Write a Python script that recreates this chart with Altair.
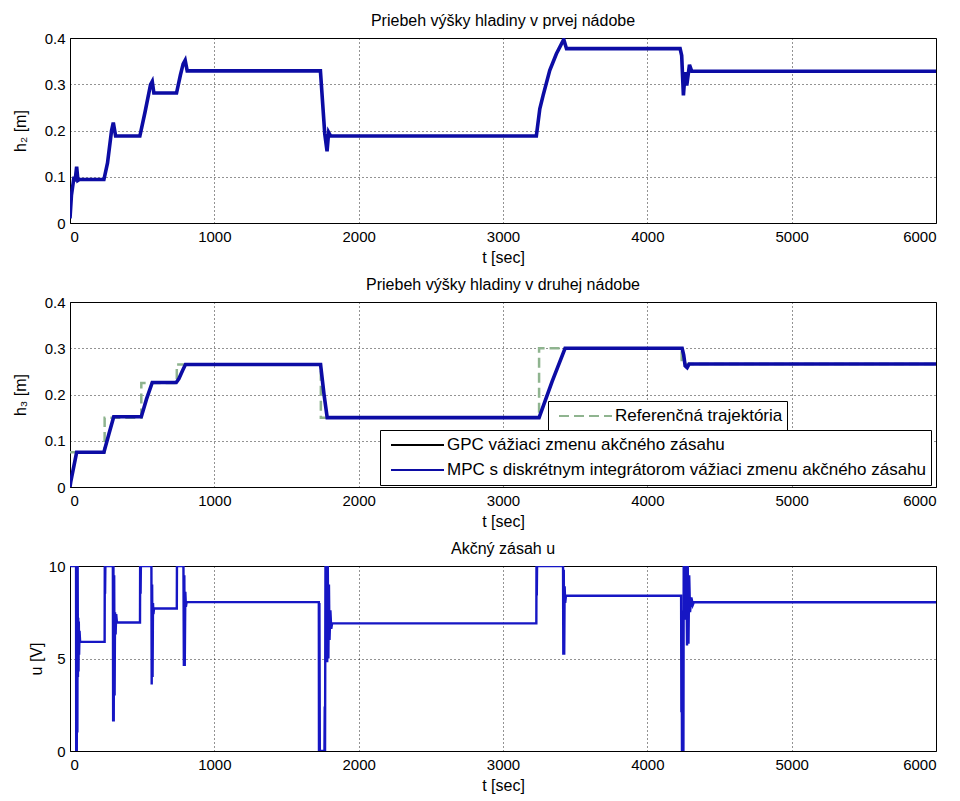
import altair as alt
import pandas as pd

# ---------------- data ----------------
x_ticks = [0, 1000, 2000, 3000, 4000, 5000, 6000]
h_ticks = [0, 0.1, 0.2, 0.3, 0.4]
u_ticks = [0, 5, 10]

# panel 1: h2 (MPC, blue)
t_h2 = [0, 10, 28, 35, 46, 55, 65, 235, 260, 288, 300, 316, 484, 520, 558, 570, 581,
        738, 765, 784, 798, 812, 1735, 1765, 1781, 1792, 1806, 3231, 3255, 3278, 3324,
        3370, 3421, 3440, 4227, 4238, 4250, 4262, 4273, 4292, 4308, 6000]
h2 = [0.01, 0.06, 0.10, 0.09, 0.122, 0.092, 0.094, 0.094, 0.13, 0.20, 0.217, 0.188, 0.188,
      0.24, 0.299, 0.306, 0.281, 0.281, 0.32, 0.344, 0.352, 0.329, 0.329, 0.193, 0.155,
      0.196, 0.188, 0.188, 0.247, 0.276, 0.33, 0.366, 0.397, 0.377, 0.377, 0.362, 0.276,
      0.326, 0.297, 0.342, 0.328, 0.328]

# panel 2: h3 (MPC, blue)
t_h3 = [0, 5, 46, 235, 270, 303, 494, 530, 570, 736, 754, 780, 800, 1736, 1760, 1782,
        3250, 3340, 3430, 4241, 4252, 4262, 4276, 4290, 6000]
h3 = [0.0, 0.011, 0.075, 0.075, 0.115, 0.152, 0.152, 0.19, 0.226, 0.226, 0.234, 0.252,
      0.265, 0.265, 0.2, 0.15, 0.15, 0.228, 0.30, 0.30, 0.285, 0.262, 0.258, 0.266, 0.266]

# panel 2: reference trajectory (green dashed)
t_ref = [0, 240, 240, 494, 494, 740, 740, 1738, 1738, 3250, 3250, 4238, 4238, 6000]
h_ref = [0.075, 0.075, 0.15, 0.15, 0.225, 0.225, 0.265, 0.265, 0.15, 0.15, 0.30, 0.30,
         0.266, 0.266]

# panel 3: control action u
t_u = [0, 42, 43, 45, 47, 49, 51, 53, 55, 57, 59, 61, 63, 66, 70, 240, 241, 243, 245, 297,
       299, 301, 303, 306, 309, 312, 316, 320, 325, 485, 486, 489, 491, 564, 566, 569, 572,
       575, 578, 582, 740, 741, 786, 789, 792, 795, 799, 803, 808, 1724, 1725, 1728, 1731,
       1763, 1765, 1767, 1770, 1774, 1778, 1782, 1786, 1790, 1794, 1798, 1804, 1810, 1816,
       3231, 3232, 3234, 3236, 3416, 3418, 3421, 3424, 3427, 3431, 3436, 4234, 4236, 4238,
       4240, 4243, 4246, 4250, 4252, 4256, 4260, 4265, 4270, 4275, 4280, 4285, 4290, 4296,
       4305, 4315, 4322, 6000]
u = [10, 10, 0, 10, 0, 10, 1, 10, 4, 7.2, 4.3, 7, 5.2, 6.5, 5.9, 5.9, 10, 8.5, 10, 10,
     1.6, 10, 1.6, 9.5, 3, 7.5, 6.3, 7.4, 6.95, 6.95, 10, 8.5, 10, 10, 3.6, 9, 4, 8, 7.4,
     7.7, 7.7, 10, 10, 4.6, 9.5, 4.6, 8.6, 7.8, 8.05, 8.05, 0, 8, 0, 0, 2.4, 0, 10, 4.8,
     10, 4.8, 10, 5, 9, 6, 7.6, 6.6, 6.9, 6.9, 10, 8.4, 10, 10, 5.2, 9.8, 5.2, 8.9, 8.0,
     8.39, 8.39, 2.1, 7.6, 0, 4, 0, 0, 10, 9, 10, 7.1, 10, 5.7, 10, 5.8, 9.5, 7.5, 8.3,
     7.9, 8.04, 8.04]

series_names = ["GPC vážiaci zmenu akčného zásahu",
                "MPC s diskrétnym integrátorom vážiaci zmenu akčného zásahu"]
ref_name = "Referenčná trajektória"

titles = ["Priebeh výšky hladiny v prvej nádobe",
          "Priebeh výšky hladiny v druhej nádobe",
          "Akčný zásah u"]

# ---------------- styling ----------------
FONT = "Liberation Sans"
BLUE = "#0c0ca4"
BLUE3 = "#1616c4"
GREEN = "#8fb48f"
W, H = 866, 185

df1 = pd.DataFrame({"t": t_h2, "v": h2})
df2 = pd.DataFrame({"t": t_h3, "v": h3, "series": series_names[1]})
dref = pd.DataFrame({"t": t_ref, "v": h_ref, "i": list(range(len(t_ref))), "name": ref_name})
df3 = pd.DataFrame({"t": t_u, "v": u})


def xenc():
    return alt.X("t:Q", scale=alt.Scale(domain=[0, 6000], nice=False, zero=False),
                 axis=alt.Axis(values=x_ticks, title="t [sec]", labelPadding=6,
                               titlePadding=5, format="d"))


def henc(title):
    return alt.Y("v:Q", scale=alt.Scale(domain=[0, 0.4], nice=False),
                 axis=alt.Axis(values=h_ticks, title=title, titlePadding=16,
                               labelPadding=5,
                               labelExpr="datum.value == 0 ? '0' : format(datum.value, '.1f')"))


def ttl(text):
    return alt.TitleParams(text, font=FONT, fontSize=16, fontWeight="normal",
                           color="black", offset=2)


def legend_props(x, y, **kw):
    return dict(orient="none", legendX=x, legendY=y, title=None,
                symbolType="stroke", symbolSize=2809, symbolStrokeWidth=2,
                clipHeight=22, padding=4, rowPadding=3,
                symbolOffset=6, labelOffset=2, labelLimit=800,
                labelFont=FONT, labelFontSize=17, labelColor="black",
                strokeColor="black", fillColor="white", **kw)


p1 = alt.Chart(df1).mark_line(color=BLUE, strokeWidth=3.6, clip=True).encode(
    x=xenc(), y=henc("h₂ [m]")
).properties(width=W, height=H, title=ttl(titles[0]))

ref_line = alt.Chart(dref).mark_line(color=GREEN, strokeWidth=2.5, clip=True).encode(
    x=xenc(), y=henc("h₃ [m]"), order="i:Q",
    strokeDash=alt.StrokeDash(
        "name:N",
        scale=alt.Scale(domain=[ref_name], range=[[10, 5]]),
        legend=alt.Legend(**legend_props(478, 99, symbolStrokeColor=GREEN)))
)

mpc_line = alt.Chart(df2).mark_line(strokeWidth=3.6, clip=True).encode(
    x=xenc(), y=henc("h₃ [m]"),
    color=alt.Color(
        "series:N",
        scale=alt.Scale(domain=series_names, range=["black", BLUE]),
        legend=alt.Legend(**legend_props(310, 128)))
)

p2 = alt.layer(ref_line, mpc_line).properties(width=W, height=H, title=ttl(titles[1]))

p3 = alt.Chart(df3).mark_line(color=BLUE3, strokeWidth=2.4, clip=True).encode(
    x=xenc(),
    y=alt.Y("v:Q", scale=alt.Scale(domain=[0, 10], nice=False),
            axis=alt.Axis(values=u_ticks, title="u [V]", titlePadding=4, labelPadding=5))
).properties(width=W, height=H, title=ttl(titles[2]))

chart = alt.vconcat(p1, p2, p3, spacing=79, bounds="flush").resolve_scale(
    color="independent", strokeDash="independent"
).resolve_legend(
    color="independent", strokeDash="independent"
).properties(
    padding={"left": 11, "top": 12, "right": 21, "bottom": 5},
    background="white",
).configure_axis(
    labelFont=FONT, titleFont=FONT, labelFontSize=15, titleFontSize=16,
    titleFontWeight="normal", labelColor="black", titleColor="black",
    grid=True, gridColor="black", gridDash=[1, 3], gridOpacity=0.85, gridWidth=1,
    ticks=False, domain=False
).configure_view(
    stroke="black", strokeWidth=1
)

chart.save("out.html", embed_options={"renderer": "svg", "actions": False})
